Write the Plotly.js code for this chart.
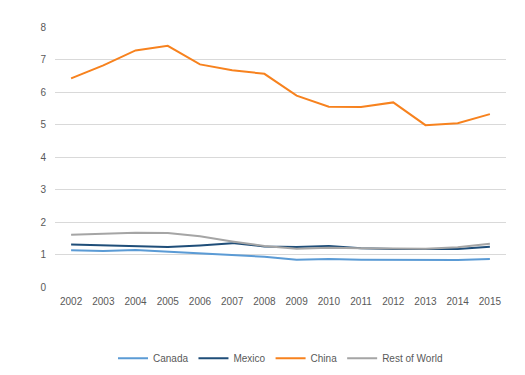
<!DOCTYPE html>
<html><head><meta charset="utf-8">
<script src="https://cdn.plot.ly/plotly-3.0.1.min.js"></script>
<style>html,body{margin:0;padding:0;background:#fff}#c{width:525px;height:375px}</style>
</head><body><div id="c"></div>
<script>
var years = ['2002','2003','2004','2005','2006','2007','2008','2009','2010','2011','2012','2013','2014','2015'];
var canada = [1.13,1.11,1.14,1.09,1.04,1.00,0.93,0.84,0.86,0.84,0.84,0.83,0.83,0.86];
var mexico = [1.31,1.29,1.26,1.23,1.28,1.35,1.25,1.23,1.26,1.19,1.17,1.16,1.17,1.24];
var china = [6.42,6.82,7.28,7.42,6.85,6.67,6.56,5.89,5.55,5.54,5.68,4.98,5.04,5.32];
var rest = [1.61,1.64,1.67,1.66,1.56,1.40,1.26,1.18,1.21,1.19,1.18,1.18,1.22,1.33];
var names = ['Canada','Mexico','China','Rest of World'];
var colors = ['#5B9BD5','#1F4E79','#F7821E','#A5A5A5'];
var series = [canada, mexico, china, rest];
var data = series.map(function(s,i){
  return {x: years, y: s, name: names[i], type:'scatter', mode:'lines',
    line:{color:colors[i], width:2}};
});
var layout = {
  width:525, height:375,
  margin:{l:55, r:19, t:27, b:88},
  paper_bgcolor:'#fff', plot_bgcolor:'#fff',
  font:{family:'Liberation Sans, Arial, sans-serif', size:10, color:'#595959'},
  showlegend:true,
  legend:{orientation:'h', x:0.5, xanchor:'center', yref:'container', y:0.045, yanchor:'middle',
    font:{size:10, color:'#595959'}, itemwidth:30, tracegroupgap:0},
  xaxis:{type:'category', range:[-0.5,13.5], automargin:false, showgrid:false, zeroline:false, showline:false, ticks:'',
    ticklabelstandoff:7, tickfont:{size:10, color:'#595959'}, fixedrange:true},
  yaxis:{range:[0,8], dtick:1, automargin:false, showgrid:true, gridcolor:'#D9D9D9', gridwidth:1,
    zeroline:false, showline:false, ticks:'', ticklabelstandoff:8,
    tickfont:{size:10, color:'#595959'}, fixedrange:true}
};
Plotly.newPlot('c', data, layout, {displayModeBar:false, staticPlot:true});
</script></body></html>
